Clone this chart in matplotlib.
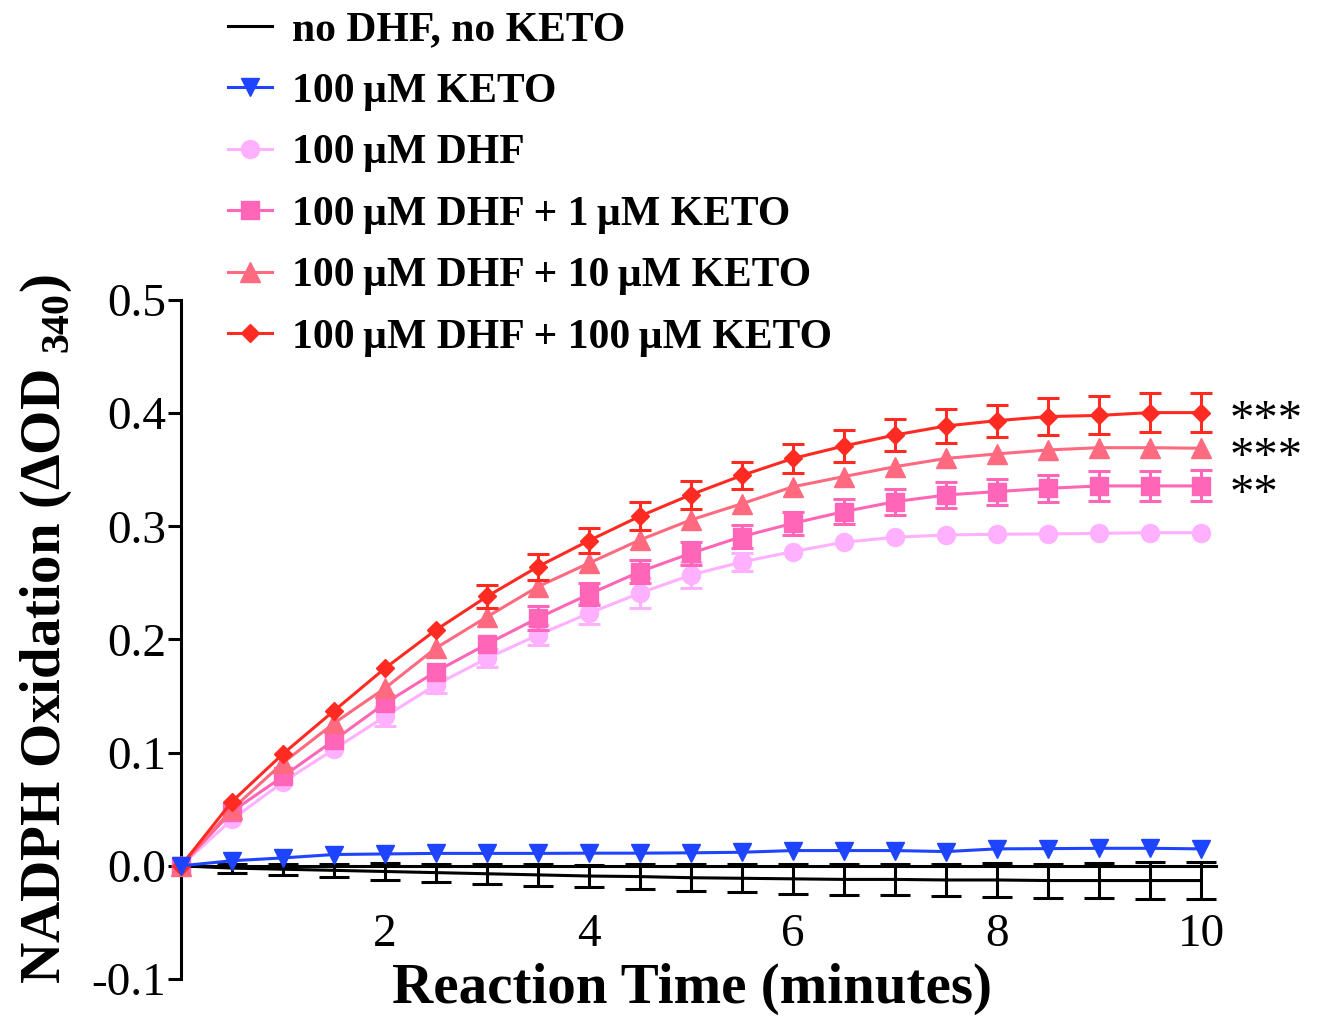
import matplotlib
matplotlib.use('Agg')
import matplotlib.pyplot as plt
from matplotlib.lines import Line2D

nan = float('nan')

# ---------------- data ----------------
time = [0, 0.5, 1, 1.5, 2, 2.5, 3, 3.5, 4, 4.5, 5, 5.5, 6, 6.5, 7, 7.5, 8, 8.5, 9, 9.5, 10]

no_dhf = [0, -0.002, -0.003, -0.004, -0.005, -0.006, -0.007, -0.008, -0.009, -0.0095, -0.0105,
          -0.011, -0.0115, -0.012, -0.012, -0.0125, -0.0125, -0.013, -0.013, -0.013, -0.013]
no_dhf_err = [nan, 0.004, 0.005, 0.006, 0.0075, 0.008, 0.009, 0.0095, 0.010, 0.011, 0.012,
              0.0125, 0.013, 0.0135, 0.014, 0.0145, 0.015, 0.015, 0.0155, 0.016, 0.016]

keto = [0, 0.0045, 0.007, 0.0100, 0.0105, 0.011, 0.011, 0.011, 0.0112, 0.0112, 0.0115,
        0.012, 0.0135, 0.0135, 0.0135, 0.0126, 0.015, 0.0152, 0.0155, 0.0155, 0.015]
keto_err = [nan] * 21   # error bars hidden behind the markers

dhf = [0, 0.041, 0.074, 0.103, 0.132, 0.160, 0.1834, 0.204, 0.2232, 0.241, 0.257,
       0.2686, 0.2777, 0.286, 0.2903, 0.2924, 0.293, 0.2933, 0.2938, 0.2944, 0.2944]
dhf_err = [nan, nan, nan, nan, 0.008, 0.007, 0.008, 0.0088, 0.0094, 0.0133, 0.0118,
           0.008, nan, nan, nan, nan, nan, nan, nan, nan, nan]

dhf_keto1 = [0, 0.048, 0.079, 0.111, 0.1436, 0.1717, 0.196, 0.219, 0.240, 0.260, 0.2762,
             0.291, 0.3027, 0.313, 0.3218, 0.3277, 0.3307, 0.3336, 0.3357, 0.3357, 0.3357]
dhf_keto1_err = [nan, nan, nan, nan, nan, nan, nan, 0.0103, 0.0097, 0.010, 0.0103,
                 0.0103, 0.0103, 0.011, 0.0115, 0.0118, 0.0115, 0.012, 0.0135, 0.0135, 0.0137]

dhf_keto10 = [0, 0.050, 0.091, 0.126, 0.157, 0.1925, 0.220, 0.2467, 0.2675, 0.288, 0.3057,
              0.320, 0.335, 0.344, 0.3527, 0.360, 0.364, 0.3675, 0.3695, 0.3695, 0.369]
dhf_keto10_err = [nan] * 21   # error bars hidden behind the markers

dhf_keto100 = [0, 0.0568, 0.099, 0.137, 0.1746, 0.2085, 0.238, 0.2644, 0.2874, 0.309, 0.328,
               0.345, 0.360, 0.371, 0.3807, 0.3887, 0.3934, 0.397, 0.398, 0.4005, 0.4005]
dhf_keto100_err = [nan, nan, nan, nan, nan, nan, 0.0098, 0.0115, 0.0113, 0.0124, 0.0125,
                   0.012, 0.0128, 0.014, 0.0144, 0.0147, 0.0141, 0.016, 0.0168, 0.0174, 0.017]

labels = ['no DHF, no KETO',
          '100\u2009µM KETO',
          '100\u2009µM DHF',
          '100\u2009µM DHF + 1\u2009µM KETO',
          '100\u2009µM DHF + 10\u2009µM KETO',
          '100\u2009µM DHF + 100\u2009µM KETO']
stars = ['***', '***', '**']
x_ticks = [2, 4, 6, 8, 10]
y_ticks = [-0.1, 0.0, 0.1, 0.2, 0.3, 0.4, 0.5]
y_ticklabels = ['-0.1', '0.0', '0.1', '0.2', '0.3', '0.4', '0.5']

# ---------------- style ----------------
plt.rcParams['font.family'] = ['Liberation Serif', 'DejaVu Serif']
plt.rcParams['mathtext.fontset'] = 'custom'
plt.rcParams['mathtext.rm'] = 'Liberation Serif'
plt.rcParams['mathtext.bf'] = 'Liberation Serif:bold'

colors = ['#000000', '#1E44FF', '#FFB0FF', '#FF66B8', '#FF6A80', '#FF2A22']
markers = [None, 'v', 'o', 's', '^', 'D']
msizes = [0, 13.5, 13, 13, 14, 9.5]
LW = 2.2

W, H = 1322, 1016
fig = plt.figure(figsize=(W / 100, H / 100), dpi=100)
ax_left, ax_right, ax_top, ax_bot = 181, 1216, 300, 979
ax = fig.add_axes([ax_left / W, (H - ax_bot) / H, (ax_right - ax_left) / W, (ax_bot - ax_top) / H])

series = [(no_dhf, no_dhf_err), (keto, keto_err), (dhf, dhf_err), (dhf_keto1, dhf_keto1_err),
          (dhf_keto10, dhf_keto10_err), (dhf_keto100, dhf_keto100_err)]
zorders = [6, 9, 4, 5, 7, 8]
capsizes = [10.5, 8, 8, 8, 8, 8]

for (y, e), c, m, ms, z, cs in zip(series, colors, markers, msizes, zorders, capsizes):
    ax.errorbar(time, y, yerr=e, color=c, lw=LW, marker=m, ms=ms, mec=c,
                capsize=cs, capthick=LW, elinewidth=LW,
                clip_on=False, zorder=z)

ax.set_xlim(0, (ax_right - ax_left) / 102.0)
ax.set_ylim(-0.1, 0.5)

for s in ['top', 'right']:
    ax.spines[s].set_visible(False)
ax.spines['left'].set_linewidth(LW)
ax.spines['bottom'].set_linewidth(LW)
ax.spines['bottom'].set_position(('data', 0))
ax.spines['bottom'].set_zorder(3)

ax.set_yticks(y_ticks)
ax.set_yticklabels(y_ticklabels)
ax.set_xticks(x_ticks)
ax.set_xticklabels([str(t) for t in x_ticks])
ax.tick_params(axis='y', direction='out', length=9.5, width=LW, labelsize=34, pad=1)
ax.tick_params(axis='x', length=0, labelsize=34, pad=34)

# significance stars, one text block anchored at the top series' last point
ax.annotate('\n'.join(stars), xy=(10.28, dhf_keto100[-1]), xytext=(0, 10),
            textcoords='offset points', ha='left', va='top', fontsize=35,
            linespacing=0.80, annotation_clip=False)

# axis titles
fig.text(692 / W, 1 - 1003 / H, 'Reaction Time (minutes)', fontsize=41, fontweight='bold',
         ha='center', va='baseline')
fig.text(46 / W, 1 - 629 / H, 'NADPH Oxidation (\u0394OD $_{\\mathbf{340}}$)', fontsize=41,
         fontweight='bold', rotation=90, ha='center', va='center')

# legend
handles = []
for c, m, ms in zip(colors, markers, msizes):
    handles.append(Line2D([], [], color=c, lw=LW, marker=m, ms=ms, mec=c))
fig.legend(handles, labels, loc='upper left', bbox_to_anchor=(228 / W, 1 - 11 / H),
           frameon=False, prop={'size': 30, 'weight': 'bold'}, handlelength=1.05,
           handletextpad=0.48, labelspacing=0.56, borderpad=0, borderaxespad=0)

fig.savefig('out.png', dpi=100)
